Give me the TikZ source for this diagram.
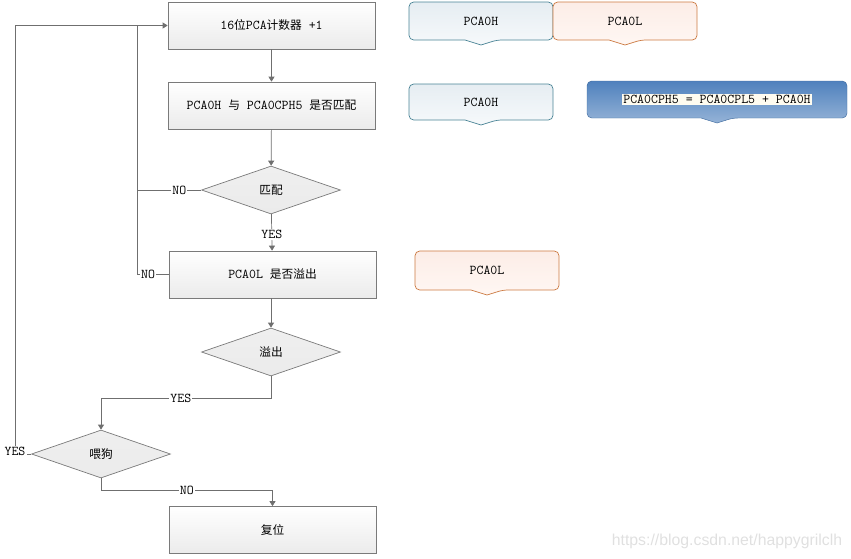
\documentclass[tikz,border=0pt]{standalone}
\usepackage{fontspec}
\newfontfamily\cjk{Noto Sans CJK SC}
\newfontfamily\marksans{Liberation Sans}
\newcommand{\zh}[1]{{\cjk\fontsize{10}{12}\selectfont #1}}
\usepackage{xcolor}
\usetikzlibrary{shapes.geometric,arrows.meta}
\definecolor{linegray}{HTML}{6F6F6F}
\definecolor{boxgray}{HTML}{7A7A7A}
\definecolor{boxfill}{HTML}{EBEBEB}
\definecolor{hborder}{HTML}{4A8496}
\definecolor{htop}{HTML}{E6EDF2}
\definecolor{hbot}{HTML}{F6F9FB}
\definecolor{lborder}{HTML}{CC7A42}
\definecolor{ltop}{HTML}{FCEDE7}
\definecolor{lbot}{HTML}{FFF7F3}
\definecolor{bluetop}{HTML}{4F81BD}
\definecolor{bluebot}{HTML}{95B3D7}
\definecolor{cream}{HTML}{FFFCF0}
\tikzset{
  box/.style={draw=boxgray, line width=0.6pt, top color=white, bottom color=boxfill,
    minimum width=62.1mm, minimum height=14.1mm, inner sep=0pt},
  decision/.style={diamond, draw=boxgray, line width=0.6pt, top color=boxfill!80, bottom color=boxfill,
    minimum width=41.7mm, minimum height=14.4mm, inner sep=0pt},
  flow/.style={draw=linegray, line width=0.6pt, -{Triangle[length=1.5mm,width=1.8mm]}},
  link/.style={draw=linegray, line width=0.6pt},
  lbl/.style={fill=white, inner sep=1pt},
  callh/.style={draw=hborder, line width=0.6pt, top color=htop, bottom color=hbot},
  calll/.style={draw=lborder, line width=0.6pt, top color=ltop, bottom color=lbot},
  callblue/.style={draw=bluetop!85!black, line width=0.4pt, top color=bluetop, bottom color=bluebot}
}
% bubble with a small pointer under its middle: style, x1, y1, x2, y2
\newcommand{\bubble}[5]{%
  \pgfmathsetmacro{\bmid}{(#2+#4)/2}
  \path[#1, rounded corners=4pt] (#2,#3) -- (#4,#3) -- (#4,#5) -- (\bmid+16,#5)
    {[sharp corners] -- (\bmid,#5+5) -- (\bmid-16,#5)} -- (#2,#5) -- cycle;}
\begin{document}
\begin{tikzpicture}[x=0.3mm, y=-0.3mm, font=\ttfamily\fontsize{11.5}{13}\selectfont]
\useasboundingbox (0,0) rectangle (851,558);

% main flow
\node[box] (count) at (271.5,25.5) {16\zh{位}PCA\zh{计数器} +1};
\node[box] (cmp) at (271.5,105.5) {PCA0H \zh{与} PCA0CPH5 \zh{是否匹配}};
\node[decision] (match) at (271,190) {\zh{匹配}};
\node[box] (ovf) at (272.5,274.5) {PCA0L \zh{是否溢出}};
\node[decision] (isovf) at (271,352) {\zh{溢出}};
\node[decision] (feed) at (101,454) {\zh{喂狗}};
\node[box] (reset) at (272.5,530) {\zh{复位}};

% turning points
\coordinate (j1) at (137,190);
\coordinate (j2) at (137,274.5);
\coordinate (j3) at (137,25.5);
\coordinate (k1) at (271,398);
\coordinate (k2) at (101,398);
\coordinate (f1) at (15,454);
\coordinate (f2) at (15,25.5);
\coordinate (r1) at (101,490);
\coordinate (r2) at (272.5,490);

\draw[flow] (count) -- (cmp);
\draw[flow] (cmp) -- (match);
\draw[flow] (match) -- node[lbl, pos=0.55] {YES} (ovf);
\draw[link] (match.west) -- node[lbl, pos=0.34] {NO} (j1) -- (j3);
\draw[link] (ovf.west) -- node[lbl, pos=0.65] {NO} (j2) -- (j1);
\draw[flow] (isovf.north |- ovf.south) -- (isovf);
\draw[flow] (isovf.south) -- (k1) -- node[lbl, pos=0.53] {YES} (k2) -- (feed.north);
\draw[flow] (feed.west) -- (f1) -- (f2) -- (count.west);
\node[lbl] (yesfeed) at (15,451) {YES};
\draw[flow] (feed.south) -- (r1) -- node[lbl] {NO} (r2) -- (reset);

% register bubbles
\bubble{callh}{409}{2}{553}{40}
\node (hreg) at (481,21) {PCA0H};
\bubble{calll}{553}{2}{697}{40}
\node (lreg) at (625,21) {PCA0L};
\bubble{callh}{409}{84}{553}{120}
\node (hreg2) at (481,102) {PCA0H};
\bubble{callblue}{587}{81}{847}{118}
\node[fill=cream, inner sep=1pt] (sum) at (717,99.5) {PCA0CPH5 = PCA0CPL5 + PCA0H};
\bubble{calll}{415}{251}{559}{290}
\node (lreg2) at (487,270.5) {PCA0L};

\node[text=black!12, font=\marksans\fontsize{13.5}{15}\selectfont] (mark) at (727,541) {https://blog.csdn.net/happygrilclh};
\end{tikzpicture}
\end{document}
